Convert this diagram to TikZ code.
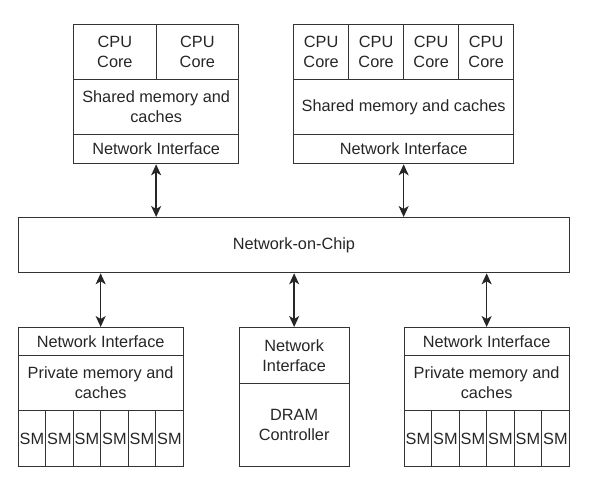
\documentclass[tikz,border=0pt]{standalone}
\usepackage{fontspec}
\setmainfont{Liberation Sans}
\usetikzlibrary{arrows.meta}
\begin{document}
\begin{tikzpicture}[x=1pt,y=-1pt,
  box/.style={draw=black!80, line width=1.3pt, inner sep=0pt, anchor=north west,
    align=center, text=black!85, font=\fontsize{16.3}{20}\selectfont},
  tip/.style={Stealth[length=11pt,width=10pt,inset=3pt]},
  arr/.style={draw=black!85, line width=1.4pt, {Stealth[length=11pt,width=10pt,inset=3pt]}-{Stealth[length=11pt,width=10pt,inset=3pt]}}]
\useasboundingbox (0,0) rectangle (594,483);
% top-left cluster
\node[box, minimum width=82.5pt, minimum height=55pt] (tlc1) at (73,24) {CPU\\Core};
\node[box, minimum width=82.5pt, minimum height=55pt] (tlc2) at (155.5,24) {CPU\\Core};
\node[box, minimum width=165pt, minimum height=55pt] (tlsh) at (73,79) {Shared memory and\\caches};
\node[box, minimum width=165pt, minimum height=29pt] (tlni) at (73,134) {Network Interface};
% top-right cluster
\node[box, minimum width=55pt, minimum height=55pt] (trc1) at (293,24) {CPU\\Core};
\node[box, minimum width=55pt, minimum height=55pt] (trc2) at (348,24) {CPU\\Core};
\node[box, minimum width=55pt, minimum height=55pt] (trc3) at (403,24) {CPU\\Core};
\node[box, minimum width=55pt, minimum height=55pt] (trc4) at (458,24) {CPU\\Core};
\node[box, minimum width=220pt, minimum height=55pt] (trsh) at (293,79) {Shared memory and caches};
\node[box, minimum width=220pt, minimum height=29pt] (trni) at (293,134) {Network Interface};
% network on chip
\node[box, minimum width=551.5pt, minimum height=55pt] (noc) at (17.5,217) {Network-on-Chip};
% bottom-left cluster
\node[box, minimum width=165pt, minimum height=28pt] (blni) at (17.5,327) {Network Interface};
\node[box, minimum width=165pt, minimum height=55pt] (blpr) at (17.5,355) {Private memory and\\caches};
\foreach \i in {0,...,5} {
  \node[box, minimum width=27.5pt, minimum height=56pt] (blsm\i) at ({17.5+27.5*\i},410) {SM};
}
% middle DRAM
\node[box, minimum width=110pt, minimum height=56pt] (dni) at (238.5,327) {Network\\Interface};
\node[box, minimum width=110pt, minimum height=83pt] (dram) at (238.5,383) {DRAM\\Controller};
% bottom-right cluster
\node[box, minimum width=165pt, minimum height=28pt] (brni) at (403.5,327) {Network Interface};
\node[box, minimum width=165pt, minimum height=55pt] (brpr) at (403.5,355) {Private memory and\\caches};
\foreach \i in {0,...,5} {
  \node[box, minimum width=27.5pt, minimum height=56pt] (brsm\i) at ({403.5+27.5*\i},410) {SM};
}
% connectors
\draw[arr] (tlni.south) -- (tlni.south |- noc.north);
\draw[arr] (trni.south) -- (trni.south |- noc.north);
\draw[arr] (blni.north |- noc.south) -- (blni.north);
\draw[arr] (dni.north |- noc.south) -- (dni.north);
\draw[arr] (brni.north |- noc.south) -- (brni.north);
\end{tikzpicture}
\end{document}
